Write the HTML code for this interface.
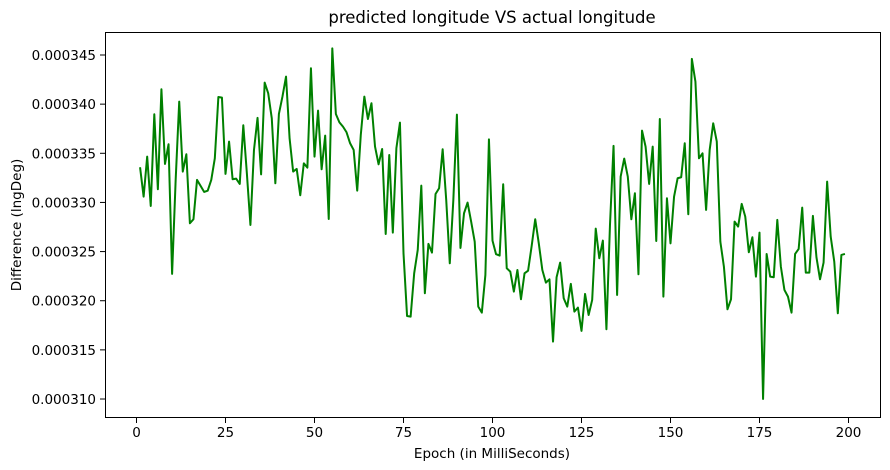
<!DOCTYPE html>
<html><head><meta charset="utf-8"><style>
html,body{margin:0;padding:0;background:#fff;}
svg{display:block;font-family:"DejaVu Sans","Liberation Sans",sans-serif;}
</style></head><body>
<svg id="chart" width="890" height="470">
<rect width="890" height="470" fill="#fff"/>
<text x="492" y="23" font-size="16.5" text-anchor="middle" fill="#000">predicted longitude VS actual longitude</text>
<text x="492" y="458" font-size="13.5" text-anchor="middle" fill="#000">Epoch (in MilliSeconds)</text>
<text transform="translate(21,225) rotate(-90)" font-size="13.5" text-anchor="middle" fill="#000">Difference (lngDeg)</text>
<g id="xticks"></g>
<g id="yticks"></g>
<path id="series" fill="none" stroke="#008000" stroke-width="2" stroke-linejoin="round"/>
<rect x="105.5" y="32.5" width="775" height="385" fill="none" stroke="#000" stroke-width="1"/>
</svg>
<script>
const epochs = [];
for (let i = 1; i <= 199; i++) epochs.push(i);
const values = [333.58,330.59,334.66,329.64,338.97,331.34,341.51,333.92,335.92,322.73,
332.29,340.26,333.14,334.90,327.88,328.29,332.29,331.68,331.07,331.20,
332.29,334.49,340.73,340.66,332.90,336.19,332.36,332.42,331.88,337.85,
332.97,327.71,335.34,338.60,332.86,342.19,341.10,338.56,331.95,339.00,
340.77,342.80,336.53,333.14,333.41,330.73,333.98,333.54,343.65,334.66,
339.34,333.37,336.80,328.32,345.68,339.00,338.15,337.71,337.14,336.02,
335.34,331.20,336.87,340.77,338.49,340.09,335.68,333.88,335.44,326.79,
334.83,326.93,335.51,338.12,324.83,318.45,318.38,322.79,325.17,331.71,
320.76,325.78,324.90,330.86,331.44,335.41,330.25,323.81,330.25,338.93,
325.37,328.90,329.98,328.05,326.01,319.40,318.79,322.62,336.42,326.12,
324.73,324.59,331.85,323.30,322.96,320.93,323.13,320.15,322.79,323.06,
325.57,328.29,325.84,323.13,321.84,322.18,315.84,322.39,323.88,320.25,
319.40,321.71,318.89,319.30,316.93,320.69,318.55,320.08,327.34,324.32,
326.12,317.10,327.71,335.75,320.59,332.63,334.46,332.63,328.29,330.93,
322.69,337.31,335.68,331.88,335.68,326.08,338.49,320.42,330.42,325.84,
330.59,332.46,332.56,336.02,328.80,344.60,342.29,334.49,335.00,329.24,
335.34,338.05,336.19,326.01,323.47,319.13,320.15,328.05,327.54,329.85,
328.56,324.93,326.46,322.45,326.93,310.01,324.76,322.45,322.39,328.22,
323.47,321.10,320.42,318.79,324.76,325.27,329.47,322.86,322.86,328.63,
324.42,322.18,323.88,332.12,326.52,323.98,318.72,324.66,324.76];
const xTicks = [0,25,50,75,100,125,150,175,200];
const yTicks = [310,315,320,325,330,335,340,345];
const yTickLabels = ["0.000310","0.000315","0.000320","0.000325","0.000330","0.000335","0.000340","0.000345"];

const NS = "http://www.w3.org/2000/svg";
function xs(e){ return 136.5 + e * 3.56; }
function ys(v){ return 55 + (345 - v) * 9.829; }

const xg = document.getElementById('xticks');
xTicks.forEach(t => {
  const l = document.createElementNS(NS,'line');
  l.setAttribute('x1', xs(t)); l.setAttribute('x2', xs(t));
  l.setAttribute('y1', 418); l.setAttribute('y2', 423);
  l.setAttribute('stroke','#000');
  
  
  xg.appendChild(l);
  const tx = document.createElementNS(NS,'text');
  tx.setAttribute('x', xs(t)); tx.setAttribute('y', 437);
  tx.setAttribute('font-size', 13.5); tx.setAttribute('text-anchor','middle');
  tx.textContent = t;
  
  
  xg.appendChild(tx);
});
const yg = document.getElementById('yticks');
yTicks.forEach((t, i) => {
  const l = document.createElementNS(NS,'line');
  l.setAttribute('x1', 100); l.setAttribute('x2', 105);
  l.setAttribute('y1', ys(t)); l.setAttribute('y2', ys(t));
  l.setAttribute('stroke','#000');
  
  
  yg.appendChild(l);
  const tx = document.createElementNS(NS,'text');
  tx.setAttribute('x', 96); tx.setAttribute('y', ys(t) + 5);
  tx.setAttribute('font-size', 13.5); tx.setAttribute('text-anchor','end');
  tx.textContent = yTickLabels[i];
  
  
  yg.appendChild(tx);
});
let d = '';
values.forEach((v, i) => { d += (i ? 'L' : 'M') + xs(epochs[i]).toFixed(2) + ',' + ys(v).toFixed(2); });
document.getElementById('series').setAttribute('d', d);
</script>
</body></html>
